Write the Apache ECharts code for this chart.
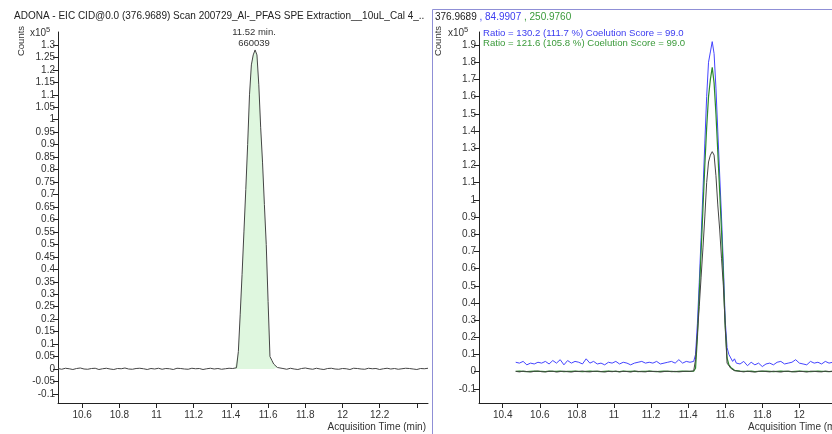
<!DOCTYPE html>
<html><head><meta charset="utf-8">
<script src="https://cdn.jsdelivr.net/npm/echarts@6/dist/echarts.min.js"></script>
<style>html,body{margin:0;padding:0;background:#fff}#c{width:832px;height:434px}</style>
</head><body><div id="c"></div>
<script>
// Acquisition times (min)
const times = [
 10.47,10.49,10.51,10.53,10.55,10.57,10.59,10.61,10.63,10.65,10.67,10.69,10.71,10.73,10.75,10.77,10.79,10.81,10.83,10.85,10.87,10.89,10.91,10.93,10.95,10.97,10.99,11.01,11.03,11.05,11.07,11.09,11.11,11.13,11.15,11.17,11.19,11.21,11.23,11.25,11.27,11.29,11.31,11.33,11.35,11.37,11.39,11.41,
 11.42,11.43,11.44,11.45,11.46,11.47,11.48,11.49,11.50,11.51,11.52,11.53,11.54,11.55,11.56,11.57,11.58,11.59,11.60,11.61,11.62,11.63,11.64,11.65,11.66,
 11.68,11.70,11.72,11.74,11.76,11.78,11.80,11.82,11.84,11.86,11.88,11.90,11.92,11.94,11.96,11.98,12.00,12.02,12.04,12.06,12.08,12.10,12.12,12.14,12.16,12.18,12.20,12.22,12.24,12.26,12.28,12.30,12.32,12.34,12.36,12.38,12.40,12.42,12.44,12.46
];
// Target ion 376.9689 (x10^5 counts)
const target376 = [
 0.002,-0.001,0.003,0.001,-0.002,0.002,0.004,0.000,-0.001,0.002,0.003,-0.002,0.001,0.003,0.000,-0.002,0.002,0.001,0.004,0.000,-0.001,0.002,0.003,0.001,-0.002,0.002,0.000,0.003,-0.001,0.002,0.001,-0.002,0.003,0.002,0.000,-0.001,0.003,0.001,0.002,-0.002,0.001,0.003,0.000,0.002,-0.001,0.001,0.003,0.002,
 0.000,0.005,0.07,0.22,0.38,0.55,0.72,0.90,1.10,1.22,1.26,1.28,1.26,1.14,0.97,0.83,0.66,0.50,0.27,0.05,0.035,0.02,0.012,0.006,0.003,
 0.002,-0.001,0.003,0.000,-0.002,0.002,0.004,0.001,-0.001,0.003,0.000,-0.002,0.002,0.003,0.000,-0.001,0.002,0.001,-0.002,0.003,0.002,0.000,-0.001,0.003,0.001,0.002,-0.002,0.001,0.003,0.000,0.002,-0.001,0.001,0.003,0.002,0.000,-0.002,0.002,0.001,0.003
];
// Qualifier 84.9907
const qual85 = [
 0.055,0.05,0.06,0.04,0.05,0.045,0.055,0.05,0.06,0.045,0.065,0.05,0.07,0.04,0.065,0.05,0.06,0.055,0.045,0.075,0.05,0.06,0.045,0.05,0.04,0.055,0.05,0.06,0.045,0.055,0.05,0.04,0.05,0.055,0.06,0.05,0.055,0.05,0.06,0.045,0.05,0.055,0.06,0.05,0.07,0.05,0.06,0.055,
 0.05,0.06,0.10,0.28,0.52,0.78,1.05,1.33,1.60,1.80,1.86,1.92,1.85,1.65,1.40,1.15,0.90,0.62,0.30,0.14,0.10,0.08,0.06,0.075,0.05,
 0.045,0.06,0.035,0.055,0.04,0.05,0.03,0.045,0.05,0.04,0.055,0.06,0.045,0.05,0.055,0.07,0.05,0.045,0.04,0.06,0.05,0.055,0.045,0.06,0.05,0.055,0.05,0.06,0.045,0.05,0.055,0.06,0.05,0.045,0.055,0.05,0.06,0.05,0.055,0.05
];
// Qualifier 250.9760
const qual251 = [
 0.002,0.003,0.002,0.001,0.002,0.003,0.002,0.002,0.001,0.003,0.002,0.002,0.003,0.001,0.002,0.002,0.003,0.002,0.001,0.002,0.003,0.002,0.002,0.001,0.002,0.003,0.002,0.002,0.001,0.003,0.002,0.002,0.003,0.001,0.002,0.002,0.003,0.002,0.001,0.002,0.003,0.002,0.002,0.001,0.002,0.003,0.002,0.002,
 0.002,0.003,0.02,0.20,0.45,0.70,0.95,1.20,1.42,1.60,1.70,1.77,1.68,1.50,1.28,1.05,0.82,0.56,0.26,0.08,0.04,0.025,0.015,0.008,0.004,
 0.003,0.002,0.002,0.003,0.001,0.002,0.002,0.003,0.002,0.001,0.002,0.003,0.002,0.002,0.001,0.002,0.003,0.002,0.002,0.001,0.002,0.003,0.002,0.002,0.001,0.002,0.003,0.002,0.002,0.001,0.002,0.003,0.002,0.002,0.001,0.002,0.003,0.002,0.002,0.001
];
// Integrated peak range
const peakStart = 11.42, peakEnd = 11.66;

const leftXTicks = [10.6,10.8,11,11.2,11.4,11.6,11.8,12,12.2,12.4];
const leftXLabels = [10.6,10.8,11,11.2,11.4,11.6,11.8,12,12.2];
const leftYTicks = [-0.1,-0.05,0,0.05,0.1,0.15,0.2,0.25,0.3,0.35,0.4,0.45,0.5,0.55,0.6,0.65,0.7,0.75,0.8,0.85,0.9,0.95,1,1.05,1.1,1.15,1.2,1.25,1.3];
const rightXTicks = [10.4,10.6,10.8,11,11.2,11.4,11.6,11.8,12];
const rightYTicks = [-0.1,0,0.1,0.2,0.3,0.4,0.5,0.6,0.7,0.8,0.9,1,1.1,1.2,1.3,1.4,1.5,1.6,1.7,1.8,1.9];

const pair = arr => times.map((t,i)=>[t,arr[i]]);
const peakPairs = times.map((t,i)=>[t,target376[i]]).filter(p=>p[0]>=peakStart-1e-9 && p[0]<=peakEnd+1e-9);

const FONT = 'Liberation Sans';
const tickColor = '#333';
const fmt = v => String(parseFloat(Number(v).toFixed(2)));

function xAx(idx,min,max,ticks,labels){
  return {type:'value',gridIndex:idx,min:min,max:max,
    axisLine:{show:true,onZero:false,lineStyle:{color:'#222',width:1}},
    axisTick:{show:true,length:5,customValues:ticks,lineStyle:{color:'#222'}},
    axisLabel:{customValues:labels,formatter:fmt,color:tickColor,fontFamily:FONT,fontSize:10,margin:7},
    splitLine:{show:false}};
}
function yAx(idx,min,max,ticks){
  return {type:'value',gridIndex:idx,min:min,max:max,
    axisLine:{show:true,onZero:false,lineStyle:{color:'#222',width:1}},
    axisTick:{show:true,length:5,customValues:ticks,lineStyle:{color:'#222'}},
    axisLabel:{customValues:ticks,formatter:fmt,color:tickColor,fontFamily:FONT,fontSize:10,margin:3},
    splitLine:{show:false}};
}

const chart = echarts.init(document.getElementById('c'),null,{renderer:'canvas'});
chart.setOption({
  animation:false,
  grid:[
    {left:58,top:32,width:370,height:371,containLabel:false},
    {left:479,top:32,right:0,height:371,containLabel:false}
  ],
  xAxis:[ xAx(0,10.47,12.46,leftXTicks,leftXLabels), xAx(1,10.272,12.176,rightXTicks,rightXTicks) ],
  yAxis:[ yAx(0,-0.1364,1.352,leftYTicks), yAx(1,-0.182,1.976,rightYTicks) ],
  series:[
    {type:'line',xAxisIndex:0,yAxisIndex:0,data:peakPairs,showSymbol:false,lineStyle:{width:0},areaStyle:{color:'#dff7df',opacity:1,origin:0},z:1},
    {type:'line',xAxisIndex:0,yAxisIndex:0,data:pair(target376),showSymbol:false,lineStyle:{color:'#444',width:1},z:3},
    {type:'line',xAxisIndex:1,yAxisIndex:1,data:pair(qual85),showSymbol:false,lineStyle:{color:'#4444ff',width:1},z:2,clip:true},
    {type:'line',xAxisIndex:1,yAxisIndex:1,data:pair(qual251),showSymbol:false,lineStyle:{color:'#2a8a2a',width:1.2},z:3,clip:true},
    {type:'line',xAxisIndex:1,yAxisIndex:1,data:pair(target376),showSymbol:false,lineStyle:{color:'#444',width:1},z:4,clip:true}
  ],
  graphic:[
    {type:'rect',shape:{x:432.5,y:9.5,width:420,height:440},style:{fill:null,stroke:'#8f8fd6',lineWidth:1},silent:true},
    {type:'text',x:14,y:11,style:{text:'ADONA - EIC CID@0.0 (376.9689) Scan 200729_Al-_PFAS SPE Extraction__10uL_Cal 4_..',font:'10px "'+FONT+'"',fill:'#222'}},
    {type:'text',x:21,y:41,rotation:Math.PI/2,style:{text:'Counts',font:'9.5px "'+FONT+'"',fill:'#333',align:'center',verticalAlign:'middle'}},
    {type:'text',x:30,y:28,style:{text:'x10',font:'10px "'+FONT+'"',fill:'#333'}},
    {type:'text',x:46,y:26,style:{text:'5',font:'7.5px "'+FONT+'"',fill:'#333'}},
    {type:'text',x:254,y:27,style:{text:'11.52 min.\n660039',font:'9.5px "'+FONT+'"',fill:'#333',align:'center',lineHeight:11}},
    {type:'text',x:435,y:12,style:{text:'{k|376.9689}{b| , 84.9907}{g| , 250.9760}',font:'10px "'+FONT+'"',rich:{k:{fill:'#222',fontFamily:FONT,fontSize:10},b:{fill:'#3c3cf0',fontFamily:FONT,fontSize:10},g:{fill:'#3a9a3a',fontFamily:FONT,fontSize:10}}}},
    {type:'text',x:438,y:41,rotation:Math.PI/2,style:{text:'Counts',font:'9.5px "'+FONT+'"',fill:'#333',align:'center',verticalAlign:'middle'}},
    {type:'text',x:448,y:28,style:{text:'x10',font:'10px "'+FONT+'"',fill:'#333'}},
    {type:'text',x:464,y:26,style:{text:'5',font:'7.5px "'+FONT+'"',fill:'#333'}},
    {type:'text',x:483,y:28,style:{text:'Ratio = 130.2 (111.7 %) Coelution Score = 99.0',font:'9.6px "'+FONT+'"',fill:'#3c3cf0'}},
    {type:'text',x:483,y:38,style:{text:'Ratio = 121.6 (105.8 %) Coelution Score = 99.0',font:'9.6px "'+FONT+'"',fill:'#3a9a3a'}},
    {type:'text',x:426,y:422,style:{text:'Acquisition Time (min)',font:'10px "'+FONT+'"',fill:'#333',align:'right'}},
    {type:'text',x:748,y:422,style:{text:'Acquisition Time (min)',font:'10px "'+FONT+'"',fill:'#333',align:'left'}}
  ]
});
</script></body></html>
